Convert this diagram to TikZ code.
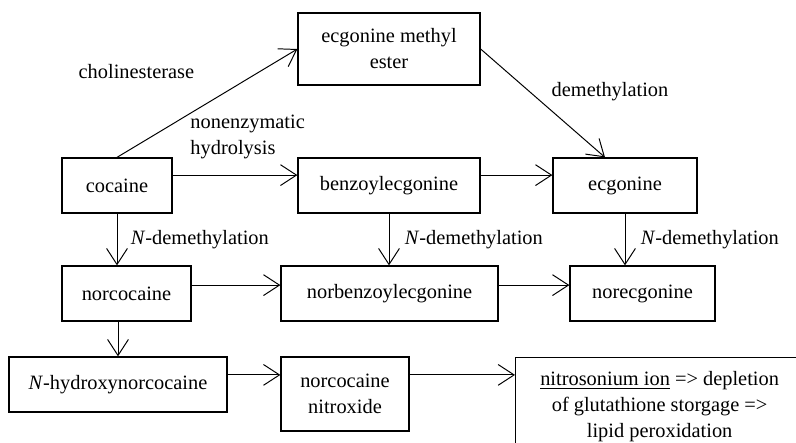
\documentclass[tikz,border=0pt]{standalone}
\usepackage{fontspec}
\setmainfont{Liberation Serif}
\usetikzlibrary{arrows.meta}
\tikzset{
  cmpd/.style={rectangle, draw=black, line width=0.9pt, align=center, inner sep=2pt,
               minimum height=1.375cm},
  flow/.style={-{Straight Barb[length=4mm, width=5.2mm]}, line width=0.7pt},
  note/.style={align=left, inner sep=1pt},
}

\begin{document}
\begin{tikzpicture}[font=\fontsize{14.5}{18.5}\selectfont]
  \useasboundingbox (0,0) rectangle (19.9,-11.05);
  \clip (0,0) rectangle (19.9,-11.05);

  % --- riga alta
  \node[cmpd, minimum width=4.55cm, minimum height=1.8cm] (eme) at (9.725,-1.225) {ecgonine methyl\\ester};
  \node[cmpd, minimum width=2.75cm]  (coca)  at (2.925,-4.6375)  {cocaine};
  \node[cmpd, minimum width=4.55cm]  (benz)  at (9.725,-4.6375)  {benzoylecgonine};
  \node[cmpd, minimum width=3.6cm]   (ecg)   at (15.625,-4.6375) {ecgonine};

  % --- riga dei nor-derivati
  \node[cmpd, minimum width=3.225cm] (norc)  at (3.1625,-7.3375)  {norcocaine};
  \node[cmpd, minimum width=5.425cm] (norb)  at (9.7375,-7.3375)  {norbenzoylecgonine};
  \node[cmpd, minimum width=3.625cm] (nore)  at (16.0625,-7.3375) {norecgonine};

  % --- riga bassa
  \node[cmpd, minimum width=5.45cm]  (nhyd)  at (2.95,-9.6125) {\textit{N}-hydroxynorcocaine};
  \node[cmpd, minimum width=3.2cm, minimum height=1.85cm] (nitx) at (8.625,-9.85) {norcocaine\\nitroxide};
  \node[cmpd, minimum width=7.7cm, minimum height=2.45cm, anchor=north west] (nits) at (12.875,-8.925)
       {\begin{tabular}{@{}c@{}}\underline{nitrosonium ion} => depletion\\of glutathione storgage =>\\lipid peroxidation\end{tabular}\hspace*{0.5cm}};

  % --- etichette libere
  \node[note] (chol) at (3.41,-1.8) {cholinesterase};
  \node[note, anchor=west] (hydr) at (4.72,-3.43) {nonenzymatic\\hydrolysis};
  \node[note] (demt) at (15.25,-2.3) {demethylation};

  % --- frecce
  \draw[flow] (coca.north) -- (eme.west);
  \draw[flow] (eme.east) -- ([xshift=-0.5cm]ecg.north);
  \draw[flow] ([yshift=0.26cm]coca.east) -- ([yshift=0.26cm]benz.west);
  \draw[flow] ([yshift=0.26cm]benz.east) -- ([yshift=0.26cm]ecg.west);

  \draw[flow] (coca.south) -- node[note, right=3mm] {\textit{N}-demethylation} (coca.south |- norc.north);
  \draw[flow] (benz.south) -- node[note, right=3.5mm] {\textit{N}-demethylation} (benz.south |- norb.north);
  \draw[flow] (ecg.south) -- node[note, right=3.5mm] {\textit{N}-demethylation} (ecg.south |- nore.north);

  \draw[flow] ([yshift=0.21cm]norc.east) -- ([yshift=0.21cm]norc.east -| norb.west);
  \draw[flow] ([yshift=0.21cm]norc.east -| norb.east) -- ([yshift=0.21cm]norc.east -| nore.west);

  \draw[flow] (nhyd.north |- norc.south) -- (nhyd.north);
  \draw[flow] ([yshift=0.24cm]nhyd.east) -- ([yshift=0.24cm]nhyd.east -| nitx.west);
  \draw[flow] ([yshift=0.24cm]nhyd.east -| nitx.east) -- ([yshift=0.24cm]nhyd.east -| nits.west);
\end{tikzpicture}
\end{document}
